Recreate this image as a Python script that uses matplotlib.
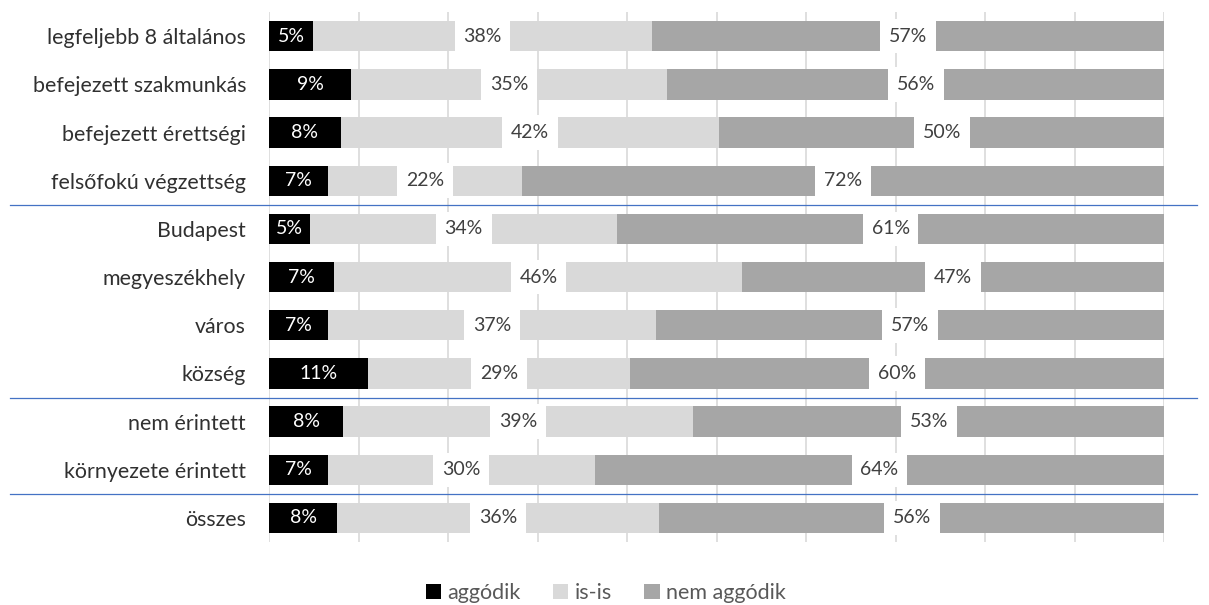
import matplotlib.pyplot as plt
import numpy as np

plt.rcParams['font.family'] = ['Lato', 'DejaVu Sans']

categories = ["legfeljebb 8 általános", "befejezett szakmunkás", "befejezett érettségi",
              "felsőfokú végzettség", "Budapest", "megyeszékhely", "város", "község",
              "nem érintett", "környezete érintett", "összes"]
aggodik = [4.9, 9.2, 8.0, 6.6, 4.6, 7.3, 6.6, 11.1, 8.3, 6.6, 7.6]
isis = [37.9, 35.3, 42.3, 21.7, 34.3, 45.6, 36.6, 29.2, 39.1, 29.8, 36.0]
nem_aggodik = [57.2, 55.5, 49.7, 71.7, 61.1, 47.1, 56.8, 59.7, 52.6, 63.6, 56.4]
separators = [3.5, 7.5, 9.5]
series_names = ["aggódik", "is-is", "nem aggódik"]
colors = ["#000000", "#D9D9D9", "#A6A6A6"]

fig = plt.figure(figsize=(12.09, 6.05), dpi=100)
ax = fig.add_axes([0.2225, 0.104, 0.7403, 0.876])

y = np.arange(len(categories))
left = np.zeros(len(categories))
for vals, name, col in zip([aggodik, isis, nem_aggodik], series_names, colors):
    vals = np.array(vals)
    ax.barh(y, vals, left=left, height=0.63, color=col, label=name, zorder=2)
    for yi, l, v in zip(y, left, vals):
        txt = "{:.0f}%".format(v)
        if col == "#000000":
            ax.text(l + v / 2, yi, txt, ha="center", va="center", color="white",
                    fontsize=14, zorder=4)
        else:
            ax.text(l + v / 2, yi, txt, ha="center", va="center", color="#404040",
                    fontsize=14, zorder=4,
                    bbox=dict(boxstyle="square,pad=0.45", fc="white", ec="none"))
    left = left + vals

ax.set_xlim(0, 100)
ax.set_ylim(len(categories) - 0.5, -0.5)
ax.set_xticks(np.arange(0, 101, 10))
ax.set_xticklabels([])
ax.xaxis.grid(True, color="#D9D9D9", linewidth=1.2, zorder=0)
ax.set_axisbelow(True)
ax.tick_params(axis="x", length=0)
ax.tick_params(axis="y", length=0, pad=16.5)
ax.set_yticks(y)
ax.set_yticklabels(categories, fontsize=15.4, color="#303030")
for s in ax.spines.values():
    s.set_visible(False)

for sy in separators:
    ax.plot([-0.289 * 100, 103.7], [sy, sy], color="#4472C4", linewidth=0.9,
            clip_on=False, zorder=3)

ax.legend(loc="center", bbox_to_anchor=(606 / 1209, 1 - 593 / 605),
          bbox_transform=fig.transFigure, ncol=3, frameon=False, fontsize=15.5,
          handlelength=0.7, handleheight=0.7, handletextpad=0.3, columnspacing=1.5,
          labelcolor="#595959")

fig.savefig("out.png", dpi=100)
